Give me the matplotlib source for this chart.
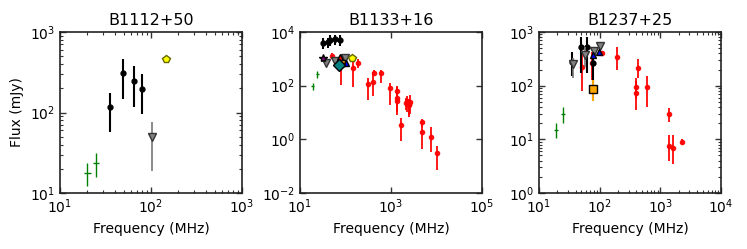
import numpy as np
import matplotlib
matplotlib.use("Agg")
import matplotlib.pyplot as plt

# ---------------- Data ----------------
titles = ["B1112+50", "B1133+16", "B1237+25"]

# Panel 1: B1112+50
p1_green_f = [20, 25]
p1_green_s = [17.6, 23.4]
p1_green_lo = [12.3, 16.0]
p1_green_hi = [23.4, 31.0]
p1_black_f = [35.4, 49.7, 65, 79]
p1_black_s = [116, 307, 246, 196]
p1_black_lo = [58, 146, 116, 96]
p1_black_hi = [176, 462, 378, 298]
p1_gray_f = [103]
p1_gray_s = [49]
p1_gray_lo = [18.8]
p1_gray_hi = [77]
p1_yellow_f = [146]
p1_yellow_s = [458]

# Panel 2: B1133+16
p2_green_f = [19, 24]
p2_green_s = [100, 270]
p2_black_f = [32, 41, 46, 59, 76]
p2_black_s = [4000, 4100, 5000, 5300, 5000]
p2_purple_f = [32.5]
p2_purple_s = [1050]
p2_gray_f = [37, 59, 98]
p2_gray_s = [680, 830, 1050]
p2_redtri_f = [76]
p2_redtri_s = [1200]
p2_orange_f = [83]
p2_orange_s = [720]
p2_blue_f = [102]
p2_blue_s = [680]
p2_teal_f = [73]
p2_teal_s = [590]
p2_yellow_f = [141]
p2_yellow_s = [1050]
p2_red_f = [51, 78, 145, 190, 310, 400, 415, 590, 955, 1330, 1380, 1380, 1630,
            2150, 2300, 2450, 2600, 2500, 4800, 4800, 7700, 10400]
p2_red_s = [1300, 590, 450, 680, 112, 138, 290, 290, 80, 63, 34, 28, 3.4,
            22, 27, 19, 25, 20, 4.3, 1.9, 1.26, 0.30]
p2_red_lo = [1000, 105, 91, 450, 30, 40, 220, 130, 19, 17, 10, 8, 0.87,
             12, 10, 8, 9, 7, 3.0, 0.45, 0.35, 0.072]
p2_red_hi = [1700, 1170, 800, 1000, 190, 330, 380, 400, 130, 95, 90, 60, 6.0,
             34, 40, 30, 45, 32, 5.5, 3.5, 3.0, 0.55]

# Panel 3: B1237+25
p3_green_f = [19, 24.6]
p3_green_s = [15, 29.7]
p3_green_lo = [10.5, 20.5]
p3_green_hi = [20, 40]
p3_black_f = [34.6, 49, 63, 78.5]
p3_black_s = [280, 515, 515, 262]
p3_black_lo = [150, 170, 170, 60]
p3_black_hi = [420, 800, 800, 400]
p3_gray_f = [37, 57, 80, 100]
p3_gray_s = [250, 380, 440, 550]
p3_gray_lo = [140, 220, 380, 480]
p3_gray_hi = [330, 520, 520, 620]
p3_blue_f = [78.5, 97]
p3_blue_s = [375, 430]
p3_orange_f = [79]
p3_orange_s = [87]
p3_orange_lo = [52]
p3_orange_hi = [130]
p3_red_f = [51, 74, 110, 195, 430, 400, 400, 595, 1380, 1380, 1590, 2280]
p3_red_s = [225, 270, 400, 345, 210, 96, 74, 93, 29.5, 7.6, 6.9, 9.0]
p3_red_lo = [78, 130, 370, 200, 140, 56, 35, 40, 21, 4.0, 3.5, 8.0]
p3_red_hi = [430, 420, 440, 520, 320, 140, 120, 150, 38, 12, 12, 10]

# ---------------- Plot ----------------
plt.rcParams['font.family'] = ['DejaVu Sans']
fig = plt.figure(figsize=(7.47, 2.49), dpi=100)

ax_w, ax_h = 182 / 747, 161 / 249
bottom = 1 - 193 / 249
lefts = [60 / 747, 300 / 747, 539 / 747]
axes = [fig.add_axes([l, bottom, ax_w, ax_h]) for l in lefts]


def err(s, lo, hi):
    s = np.asarray(s, float)
    return [s - np.asarray(lo, float), np.asarray(hi, float) - s]


def green(ax, f, s, lo=None, hi=None, frac=0.25):
    f = np.asarray(f, float)
    s = np.asarray(s, float)
    if lo is None:
        ye = [s * frac, s * frac]
    else:
        ye = err(s, lo, hi)
    xe = [f * 0.08, f * 0.085]
    ax.errorbar(f, s, xerr=xe, yerr=ye, fmt='none', ecolor='green',
                elinewidth=1.0, capsize=0, zorder=3)


def black(ax, f, s, ye, xe=None):
    ax.errorbar(f, s, yerr=ye, xerr=xe, fmt='o', color='black', ms=3.5,
                elinewidth=1.5, capsize=0, zorder=4)


def red(ax, f, s, lo, hi):
    ax.errorbar(f, s, yerr=err(s, lo, hi), fmt='o', color='red', ms=3,
                mec='red', ecolor='red', elinewidth=1.4, alpha=0.9,
                capsize=0, zorder=3)


def gray(ax, f, s, ye=None):
    ax.errorbar(f, s, yerr=ye, fmt='v', mfc='gray', mec='#333333', ms=5.5,
                ecolor='#777777', elinewidth=1.2, capsize=0, zorder=5)


# Panel 1
ax = axes[0]
green(ax, p1_green_f, p1_green_s, p1_green_lo, p1_green_hi)
black(ax, p1_black_f, p1_black_s, err(p1_black_s, p1_black_lo, p1_black_hi))
gray(ax, p1_gray_f, p1_gray_s, err(p1_gray_s, p1_gray_lo, p1_gray_hi))
ax.plot(p1_yellow_f, p1_yellow_s, 'p', mfc='yellow', mec='#666600', ms=5.5,
        zorder=6)
ax.set_xlim(10, 1000)
ax.set_ylim(10, 1000)
ax.set_ylabel("Flux (mJy)", fontsize=10)

# Panel 2
ax = axes[1]
green(ax, p2_green_f, p2_green_s, frac=0.3)
red(ax, p2_red_f, p2_red_s, p2_red_lo, p2_red_hi)
bs = np.asarray(p2_black_s, float)
bf = np.asarray(p2_black_f, float)
black(ax, bf, bs, [bs * 0.4, bs * 0.5], [bf * 0.1, bf * 0.1])
ax.plot(p2_purple_f, p2_purple_s, '*', mfc='purple', mec='black', ms=6,
        zorder=6)
gray(ax, p2_gray_f, p2_gray_s)
ax.plot(p2_redtri_f, p2_redtri_s, '^', mfc='red', mec='black', ms=5, zorder=6)
ax.plot(p2_orange_f, p2_orange_s, 's', mfc='orange', mec='black', ms=5,
        zorder=6)
ax.plot(p2_blue_f, p2_blue_s, '^', mfc='blue', mec='black', ms=5, zorder=6)
ax.plot(p2_teal_f, p2_teal_s, 'D', mfc='teal', mec='black', ms=6.5, zorder=7)
ax.plot(p2_yellow_f, p2_yellow_s, 'p', mfc='yellow', mec='#666600', ms=6,
        zorder=7)
ax.set_xlim(10, 1e5)
ax.set_ylim(1e-2, 1e4)

# Panel 3
ax = axes[2]
green(ax, p3_green_f, p3_green_s, p3_green_lo, p3_green_hi)
red(ax, p3_red_f, p3_red_s, p3_red_lo, p3_red_hi)
black(ax, p3_black_f, p3_black_s, err(p3_black_s, p3_black_lo, p3_black_hi))
gray(ax, p3_gray_f, p3_gray_s, err(p3_gray_s, p3_gray_lo, p3_gray_hi))
ax.plot(p3_blue_f, p3_blue_s, '^', mfc='blue', mec='black', ms=5, zorder=6)
ax.errorbar(p3_orange_f, p3_orange_s,
            yerr=err(p3_orange_s, p3_orange_lo, p3_orange_hi), fmt='s',
            mfc='orange', mec='black', ms=6, ecolor='orange', elinewidth=1.5,
            capsize=0, zorder=6)
ax.set_xlim(10, 1e4)
ax.set_ylim(1, 1e3)

for ax, t in zip(axes, titles):
    ax.set_xscale('log')
    ax.set_yscale('log')
    ax.set_title(t, fontsize=11.5, pad=5)
    ax.set_xlabel("Frequency (MHz)", fontsize=10)
    ax.tick_params(which='both', direction='in', top=True, right=True,
                   labelsize=10, color='#333333')
    ax.tick_params(which='major', length=4, width=1)
    ax.tick_params(which='minor', length=2, width=0.8)
    for sp in ax.spines.values():
        sp.set_linewidth(1.2)
        sp.set_color('#222222')

fig.savefig("out.png", dpi=100)
